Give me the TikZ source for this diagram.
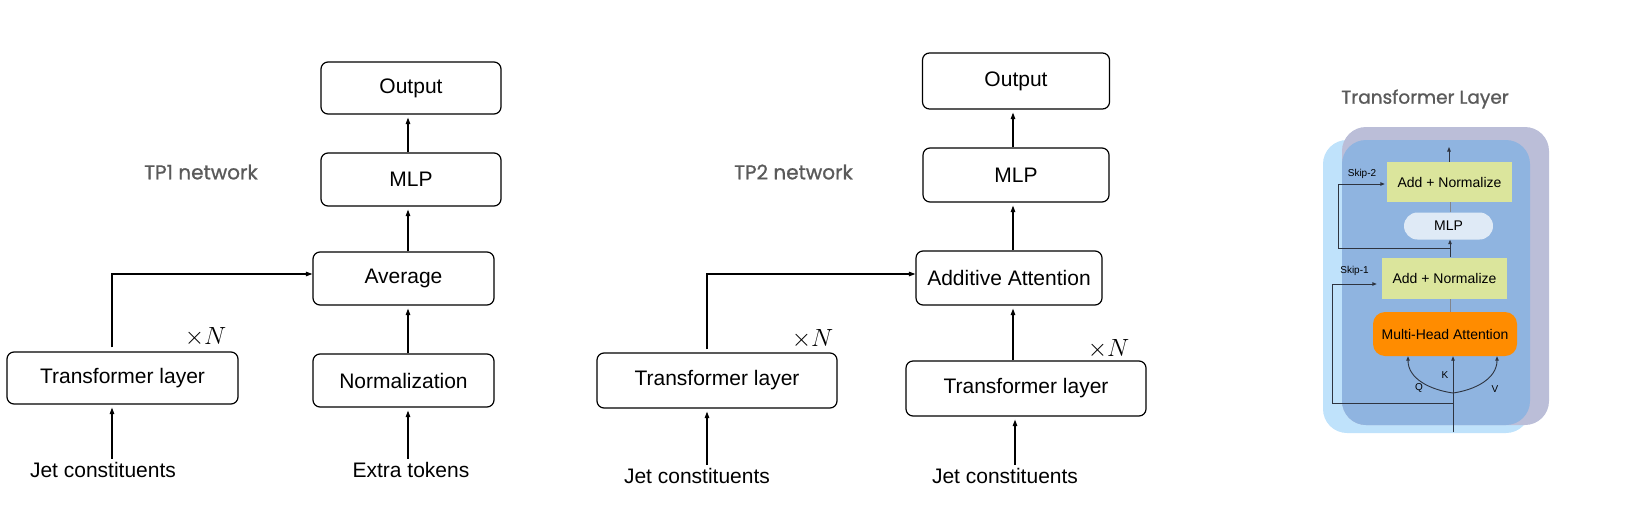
\documentclass[tikz,border=0pt]{standalone}
\usepackage{fontspec}
\setmainfont{Liberation Sans}
\newfontfamily\headfont{Poppins}[FakeBold=1]
\usetikzlibrary{arrows.meta,calc,positioning}
\definecolor{headgray}{HTML}{5A5A5A}
\definecolor{skyback}{HTML}{BFE2FB}
\definecolor{lilacback}{HTML}{BBBED8}
\definecolor{midback}{HTML}{8FB4E0}
\definecolor{normfill}{HTML}{DBE59C}
\definecolor{pillfill}{HTML}{DFEAF6}
\definecolor{mhafill}{HTML}{FF8C00}
\definecolor{wire}{HTML}{2E3440}

\begin{document}
\begin{tikzpicture}[x=1pt, y=-1pt, node distance=100pt, on grid,
	every node/.style={font=\fontsize{21}{25}\selectfont},
	block/.style={draw, line width=1.2pt, rounded corners=7pt, minimum width=181pt, minimum height=53pt, inner sep=0pt},
	rep/.style={font=\fontsize{25}{30}\selectfont, inner sep=0pt},
	head/.style={font=\headfont\fontsize{20}{24}\selectfont, text=headgray},
	arr/.style={-{Triangle[length=6.5pt,width=4.5pt]}, line width=1.1pt, shorten >=3pt},
	tbox/.style={font=\fontsize{14}{17}\selectfont, inner sep=0pt, minimum width=125pt, minimum height=40pt, fill=normfill},
	tag/.style={font=\fontsize{10}{12}\selectfont, inner sep=0pt},
	wirearr/.style={-{Triangle[length=4.5pt,width=3.5pt]}, line width=0.9pt, draw=wire},
	link/.style={line width=0.6pt, draw=wire!60}
]
\useasboundingbox (0,0) rectangle (1627,517);

% TP1 network
\node[head] (tp1) at (201,172) {TP1 network};
\node[block, minimum width=231pt, minimum height=52pt] (tl1) at (122.5,378) {Transformer layer};
\node (jet1) at (103,470) {Jet constituents};
\node[rep] (rep1) at ([xshift=-33pt, yshift=14pt]tl1.north east) {$\times N$};
\node[block] (avg1) at (403.5,278.5) {Average};
\node[block] (norm1) [below=102pt of avg1] {Normalization};
\node (extra1) at (411,470) {Extra tokens};
\node[block, minimum width=180pt] (mlp1) [above=99pt of avg1, xshift=7.5pt] {MLP};
\node[block, minimum width=180pt, minimum height=52pt] (out1) [above=91.5pt of mlp1] {Output};
\coordinate (ax1) at (408,0);
\coordinate (tl1io) at (112,0);

\draw[arr] (jet1.north -| tl1io) -- (tl1.south -| tl1io);
\draw[arr, shorten <=4pt, shorten >=0pt] (tl1.north -| tl1io) |- ([yshift=4.5pt]avg1.west);
\path[arr] (extra1.north -| ax1) edge (norm1.south -| ax1)
	(norm1.north -| ax1) edge (avg1.south -| ax1)
	(avg1.north -| ax1) edge (mlp1.south -| ax1)
	(mlp1.north -| ax1) edge (out1.south -| ax1);

% TP2 network
\node[head] (tp2) at (793.5,172) {TP2 network};
\node[block, minimum width=240pt, minimum height=55pt] (tl2a) at (717,380.5) {Transformer layer};
\node (jet2a) at (697,476) {Jet constituents};
\node[rep] (rep2a) at ([xshift=-25pt, yshift=13pt]tl2a.north east) {$\times N$};
\node[block, minimum width=186pt, minimum height=54pt] (att2) at (1009,278) {Additive Attention};
\node[block, minimum width=186pt, minimum height=54pt] (mlp2) [above=103pt of att2, xshift=7pt] {MLP};
\node[block, minimum width=187pt, minimum height=56pt] (out2) [above=94pt of mlp2] {Output};
\node[block, minimum width=240pt, minimum height=55pt] (tl2b) at (1026,388.5) {Transformer layer};
\node (jet2b) at (1005,476) {Jet constituents};
\node[rep] (rep2b) at ([xshift=-38pt, yshift=11pt]tl2b.north east) {$\times N$};
\coordinate (ax2) at (1013,0);
\coordinate (tl2io) at (707,0);
\coordinate (tl2bio) at (1015,0);

\draw[arr] (jet2a.north -| tl2io) -- (tl2a.south -| tl2io);
\draw[arr, shorten <=3pt, shorten >=0pt] (tl2a.north -| tl2io) |- ([yshift=4pt]att2.west);
\path[arr] (jet2b.north -| tl2bio) edge (tl2b.south -| tl2bio)
	(tl2b.north -| ax2) edge (att2.south -| ax2)
	(att2.north -| ax2) edge (mlp2.south -| ax2)
	(mlp2.north -| ax2) edge (out2.south -| ax2);

% Transformer layer
\node[head, font=\headfont\fontsize{18.5}{22}\selectfont] (tlhead) at (1425,99) {Transformer Layer};
\fill[skyback, rounded corners=24pt] (1323,140) rectangle (1530,433);
\fill[lilacback, rounded corners=24pt] (1342,127) rectangle (1549,425);
\fill[midback, rounded corners=24pt] (1342,140) rectangle (1530,425);

\node[tbox] (an2) at (1449.5,182) {Add + Normalize};
\node[tbox, fill=pillfill, minimum width=89pt, minimum height=27pt, rounded corners=13.5pt] (mlpp) at (1448.5,226) {MLP};
\node[tbox, minimum height=41pt] (an1) at (1444.5,278) {Add + Normalize};
\node[tbox, fill=mhafill, minimum width=144pt, minimum height=44pt, rounded corners=12pt] (mha) at (1445,334) {Multi-Head Attention};
\node[tag] (kk) at (1445,375) {K};
\node[tag] (qq) at (1419,388) {Q};
\node[tag] (vv) at (1495,389) {V};
\node[tag] (skip1) at (1354.5,271) {Skip-1};
\node[tag] (skip2) at (1362,174) {Skip-2};
\coordinate (tin) at (1453,432);
\coordinate (fork) at (1453,393);
\coordinate (s1) at (1453,403);
\coordinate (k1) at (1332,403);
\coordinate (s2) at (1450,248);
\coordinate (k2) at (1338,248);
\coordinate (tout) at (1449,147);

\draw[wirearr] (tin) -- (mha.south -| tin);
\draw[wirearr] (fork) to[out=172, in=-90] ([xshift=-37pt]mha.south);
\draw[wirearr] (fork) to[out=8, in=-90] ([xshift=52pt]mha.south);
\draw[wirearr, shorten >=5pt] (s1) -- (k1) |- ([yshift=-6pt]an1.west);
\draw[wirearr, shorten >=2pt] (s2) -- (k2) |- ([yshift=-2pt]an2.west);
\draw[link] (mha.north -| s2) -- (an1.south -| s2);
\draw[wirearr] (an1.north -| s2) -- (mlpp.south -| s2);
\draw[link] (mlpp.north -| s2) -- (an2.south -| s2);
\draw[wirearr] (an2.north -| tout) -- (tout);
\end{tikzpicture}
\end{document}
